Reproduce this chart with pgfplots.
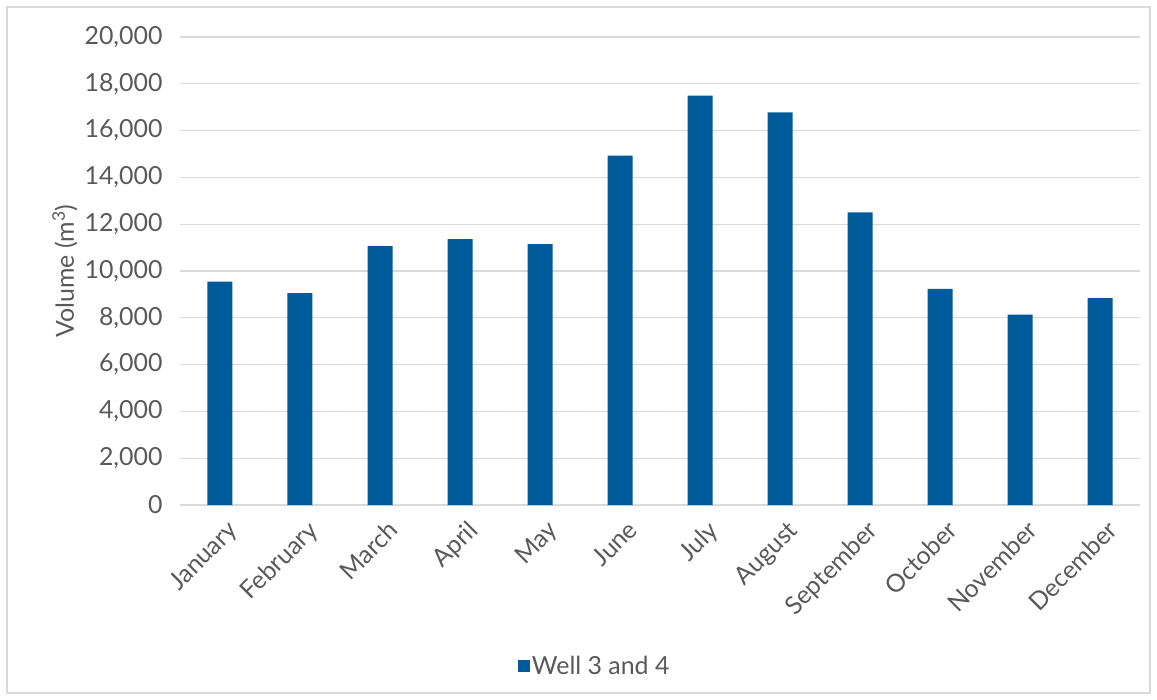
\documentclass[border=0pt]{standalone}
\usepackage{fontspec}
\setmainfont{Lato}
\usepackage{pgfplots}
\pgfplotsset{compat=1.18}
\definecolor{barblue}{RGB}{0,91,155}
\definecolor{gridgray}{RGB}{217,217,217}
\definecolor{textgray}{RGB}{89,89,89}
\definecolor{framegray}{RGB}{217,217,217}

\begin{document}
\begin{tikzpicture}
\begin{axis}[
  at={(0,0)}, anchor=south west,
  scale only axis,
  width=960bp, height=468bp,
  xmin=-0.5, xmax=11.5,
  ymin=0, ymax=20000,
  ytick={0,2000,...,20000},
  scaled y ticks=false,
  xtick=data,
  xticklabels={January,February,March,April,May,June,July,August,September,October,November,December},
  axis line style={draw=none},
  major tick length=0pt,
  ymajorgrids,
  grid style={gridgray, line width=1.3bp},
  font=\fontsize{25}{29}\selectfont,
  tick label style={textgray},
  /pgf/number format/.cd, 1000 sep={,}, fixed, assume math mode=true,
  /pgfplots/.cd,
  yticklabel style={anchor=east, xshift=-14bp},
  xticklabel style={rotate=45, anchor=north east, xshift=-2bp, yshift=-11bp},
  ylabel={Volume (m\textsuperscript{3})},
  ylabel style={textgray, at={(axis description cs:-0.12,0.5)}, anchor=center},
  legend style={at={(axis description cs:0.432,-0.344)}, anchor=center, draw=none,
    text=textgray, font=\fontsize{25}{29}\selectfont, inner sep=0pt},
  legend image code/.code={\fill[barblue] (0bp,-6bp) rectangle (12bp,6bp);},
]
\addplot[ybar, bar width=25bp, fill=barblue, draw=none] coordinates {
  (0,9550) (1,9050) (2,11060) (3,11360) (4,11150) (5,14930)
  (6,17490) (7,16780) (8,12510) (9,9240) (10,8140) (11,8840)
};
\addlegendentry{Well 3 and 4}
\end{axis}
% chart frame
\draw[framegray, line width=1.3bp] (-173bp,-188bp) rectangle (970bp,498bp);
\path (-180bp,-195bp) rectangle (977bp,505bp);
\end{tikzpicture}
\end{document}
